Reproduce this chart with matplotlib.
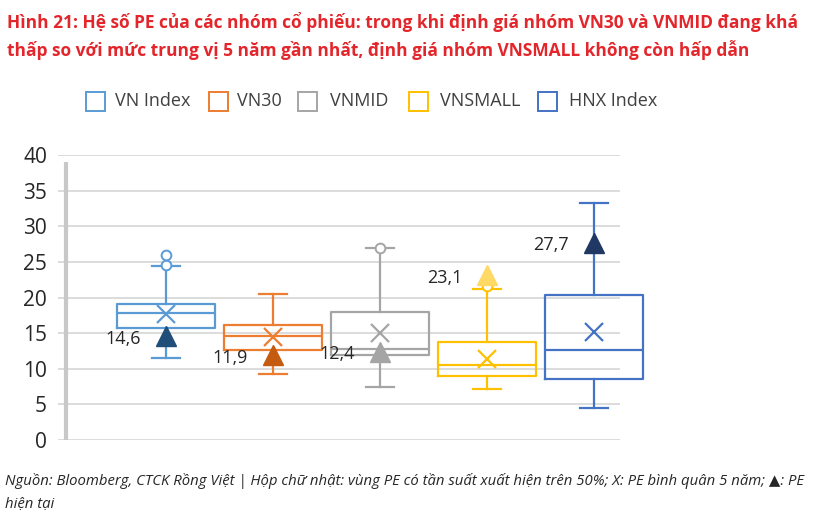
import matplotlib
matplotlib.use("Agg")
import matplotlib.pyplot as plt
import matplotlib.font_manager as fm
from matplotlib.patches import Rectangle

categories = ['VN Index', 'VN30', 'VNMID', 'VNSMALL', 'HNX Index']
q1 = [15.7, 12.6, 11.9, 9.0, 8.5]
medians = [17.8, 14.6, 12.8, 10.5, 12.6]
q3 = [19.1, 16.1, 18.0, 13.75, 20.4]
whislo = [11.5, 9.2, 7.5, 7.1, 4.5]
whishi = [24.4, 20.5, 27.0, 21.2, 33.2]
means = [17.7, 14.4, 15.0, 11.3, 15.1]
fliers = [[24.5, 25.9], [], [27.0], [21.6], []]
current = [14.6, 11.9, 12.4, 23.1, 27.7]
current_labels = ['14,6', '11,9', '12,4', '23,1', '27,7']
yticks = [0, 5, 10, 15, 20, 25, 30, 35, 40]

box_colors = ['#5B9BD5', '#ED7D31', '#A5A5A5', '#FFC000', '#4472C4']
tri_colors = ['#1F4E79', '#C55A11', '#A5A5A5', '#FFD966', '#1F3864']

title1 = 'Hình 21: Hệ số PE của các nhóm cổ phiếu: trong khi định giá nhóm VN30 và VNMID đang khá'
title2 = 'thấp so với mức trung vị 5 năm gần nhất, định giá nhóm VNSMALL không còn hấp dẫn'
foot1 = 'Nguồn: Bloomberg, CTCK Rồng Việt | Hộp chữ nhật: vùng PE có tần suất xuất hiện trên 50%; X: PE bình quân 5 năm; ▲: PE'
foot2 = 'hiện tại'


def has(name):
    try:
        fm.findfont(fm.FontProperties(family=name), fallback_to_default=False)
        return True
    except Exception:
        return False


narrow = 'Liberation Sans Narrow' if has('Liberation Sans Narrow') else 'Open Sans'
fam = [narrow, 'DejaVu Sans']
plt.rcParams['font.family'] = fam

W, H = 816, 518
fig = plt.figure(figsize=(W / 100, H / 100), dpi=100)

# axes geometry in pixels
unit = 107.0
x0 = 166.0
left_px, right_px = 58.0, 660.0
ax = fig.add_axes([left_px / W, (H - 440) / H, (right_px - left_px) / W, (440 - 155) / H])
xl = (left_px - x0) / unit
xr = (right_px - x0) / unit
ax.set_xlim(xl, xr)
ax.set_ylim(0, 40)
for s in ax.spines.values():
    s.set_visible(False)
ax.set_xticks([])
ax.set_yticks(yticks)
ax.set_yticklabels([str(t) for t in yticks], fontsize=15, color='#262626')
ax.tick_params(axis='y', length=0, pad=8)

grid_end = (620 - x0) / unit
ax.hlines(yticks, xl, grid_end, colors='#D9D9D9', linewidth=1.3, zorder=0)
axis_x = (66 - x0) / unit
ax.plot([axis_x, axis_x], [0, 39.0], color='#C8C8C8', linewidth=3, solid_capstyle='butt', zorder=1)

stats = []
for i in range(len(categories)):
    stats.append(dict(med=medians[i], q1=q1[i], q3=q3[i], whislo=whislo[i],
                      whishi=whishi[i], mean=means[i], fliers=fliers[i], label=categories[i]))
positions = list(range(len(categories)))
bp = ax.bxp(stats, positions=positions, widths=0.91, capwidths=0.27, showmeans=True,
            patch_artist=False, manage_ticks=False)
for i, c in enumerate(box_colors):
    bp['boxes'][i].set(color=c, linewidth=1.6, clip_on=False)
    bp['medians'][i].set(color=c, linewidth=1.6, clip_on=False)
    for w in bp['whiskers'][2 * i:2 * i + 2]:
        w.set(color=c, linewidth=1.6)
    for cp in bp['caps'][2 * i:2 * i + 2]:
        cp.set(color=c, linewidth=1.6)
    bp['fliers'][i].set(marker='o', markerfacecolor='white', markeredgecolor=c,
                        markersize=7, markeredgewidth=1.4)
    bp['means'][i].set(marker='x', markeredgecolor=c, markersize=13, markeredgewidth=1.6)

for i in range(len(categories)):
    ax.plot(positions[i], current[i], marker='^', color=tri_colors[i], markersize=15,
            linestyle='none', zorder=5, clip_on=False)
    ax.annotate(current_labels[i], (positions[i], current[i]), xytext=(-18, -2),
                textcoords='offset points', ha='right', va='center', fontsize=13,
                color='#262626')

# title
t1 = fig.text(7 / W, 1 - 22 / H, title1, color='#E3262B', fontweight='bold', fontsize=14,
              ha='left', va='center')
t2 = fig.text(7 / W, 1 - 50 / H, title2, color='#E3262B', fontweight='bold', fontsize=14,
              ha='left', va='center')
fig.canvas.draw()
r = fig.canvas.get_renderer()
wid = t1.get_window_extent(r).width
fs = 14 * (796 / wid)
t1.set_fontsize(fs)
t2.set_fontsize(fs)

# legend
leg_sq = [86, 209, 298, 409, 538]
leg_tx = [115, 237, 330, 440, 569]
for i, lab in enumerate(categories):
    fig.patches.append(Rectangle((leg_sq[i] / W, 1 - 111 / H), 19 / W, 19 / H,
                                 transform=fig.transFigure, fill=False,
                                 edgecolor=box_colors[i], linewidth=1.4))
    fig.text(leg_tx[i] / W, 1 - 101.5 / H, lab, fontsize=13, color='#404040',
             ha='left', va='center')

# footnote
f1 = fig.text(5 / W, 1 - 481 / H, foot1, fontstyle='italic', fontsize=12, color='#262626',
              ha='left', va='center')
f2 = fig.text(5 / W, 1 - 504 / H, foot2, fontstyle='italic', fontsize=12, color='#262626',
              ha='left', va='center')
fig.canvas.draw()
wid = f1.get_window_extent(r).width
fs2 = 12 * (800 / wid)
f1.set_fontsize(fs2)
f2.set_fontsize(fs2)

fig.savefig('out.png', dpi=100)
